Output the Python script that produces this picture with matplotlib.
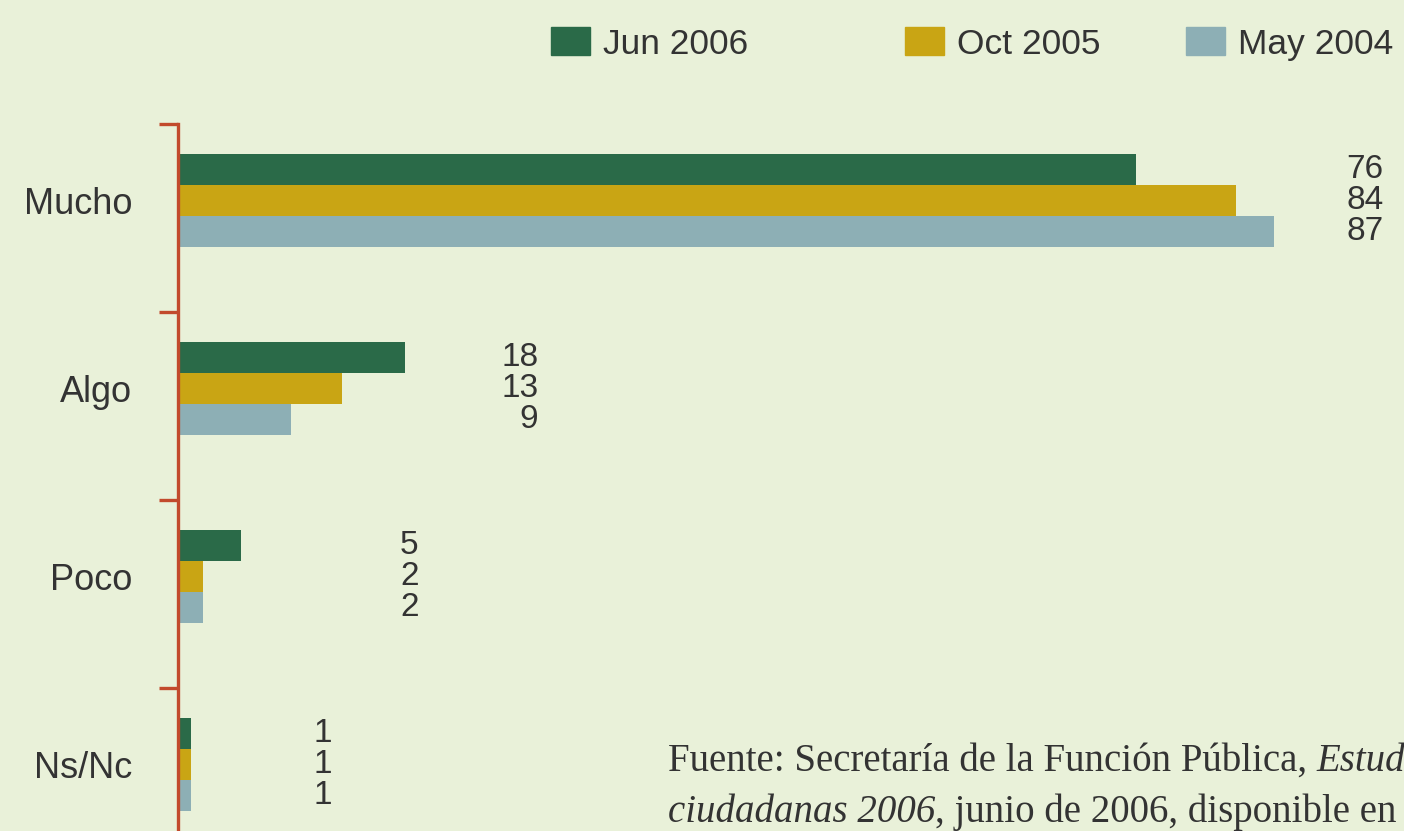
import numpy as np
import matplotlib
matplotlib.use('Agg')
import matplotlib.pyplot as plt
from matplotlib.patches import Patch

# categories and series (percentages)
categories = ['Mucho', 'Algo', 'Poco', 'Ns/Nc']
series_names = ['Jun 2006', 'Oct 2005', 'May 2004']
jun_2006 = [76, 18, 5, 1]
oct_2005 = [84, 13, 2, 1]
may_2004 = [87, 9, 2, 1]
values = [jun_2006, oct_2005, may_2004]

colors = ['#2a6a48', '#c9a514', '#8dafb5']
bg = '#e9f1d9'
axis_red = '#c24a2c'
text_col = '#333333'

plt.rcParams['font.family'] = ['Liberation Sans', 'DejaVu Sans']

fig = plt.figure(figsize=(14.04, 8.31), dpi=100, facecolor=bg)
ax = fig.add_axes([178 / 1404, 0.0, 1 - 178 / 1404, 1 - 124 / 831])
ax.set_facecolor(bg)

y = np.arange(len(categories))
h = 0.165
offsets = [-h, 0, h]
for vals, off, c, name in zip(values, offsets, colors, series_names):
    ax.barh(y + off, vals, height=h, color=c, label=name, zorder=2)

# value labels stacked to the right of each group
label_x = [95.7, 28.6, 19.1, 12.2]
for i in range(len(categories)):
    for vals, off in zip(values, offsets):
        ax.text(label_x[i], i + off, str(vals[i]), ha='right', va='center',
                fontsize=24, color=text_col)

ax.set_xlim(0, 97.3)
ax.set_ylim(3.355, -0.407)

for s in ['top', 'right', 'bottom']:
    ax.spines[s].set_visible(False)
ax.spines['left'].set_color(axis_red)
ax.spines['left'].set_linewidth(2.4)

ax.set_xticks([])
ax.set_yticks(y)
ax.set_yticklabels(categories, fontsize=26, color=text_col)
ax.tick_params(axis='y', which='major', length=0, pad=33)
ax.set_yticks(y - 0.407, minor=True)
ax.tick_params(axis='y', which='minor', length=14, width=2.4, color=axis_red)

# legend entries placed individually
leg_x = [551, 905, 1186]
for name, c, lx in zip(series_names, colors, leg_x):
    lg = fig.legend(handles=[Patch(color=c)], labels=[name],
                    loc='center left', bbox_to_anchor=(lx / 1404, 1 - 44 / 831),
                    frameon=False, fontsize=25.5, handlelength=1.1,
                    handleheight=0.83, handletextpad=0.36, borderpad=0,
                    borderaxespad=0)
    for t in lg.get_texts():
        t.set_color(text_col)

# source note (cut by the figure edge as in the original)
src = dict(fontsize=28, color=text_col, family=['Liberation Serif', 'DejaVu Serif'])
t1 = fig.text(668 / 1404, 1 - 771 / 831, 'Fuente: Secretaría de la Función Pública, ',
              ha='left', va='baseline', **src)
fig.canvas.draw()
ax.annotate('Estudio de percepciones', xy=(1, 0), xycoords=t1, va='bottom',
            ha='left', style='italic', annotation_clip=False, **src)
t2 = fig.text(668 / 1404, 1 - 822 / 831, 'ciudadanas 2006', ha='left',
              va='baseline', style='italic', **src)
ax.annotate(', junio de 2006, disponible en', xy=(1, 0), xycoords=t2,
            va='bottom', ha='left', annotation_clip=False, **src)

fig.savefig('out.png', dpi=100, facecolor=bg)
